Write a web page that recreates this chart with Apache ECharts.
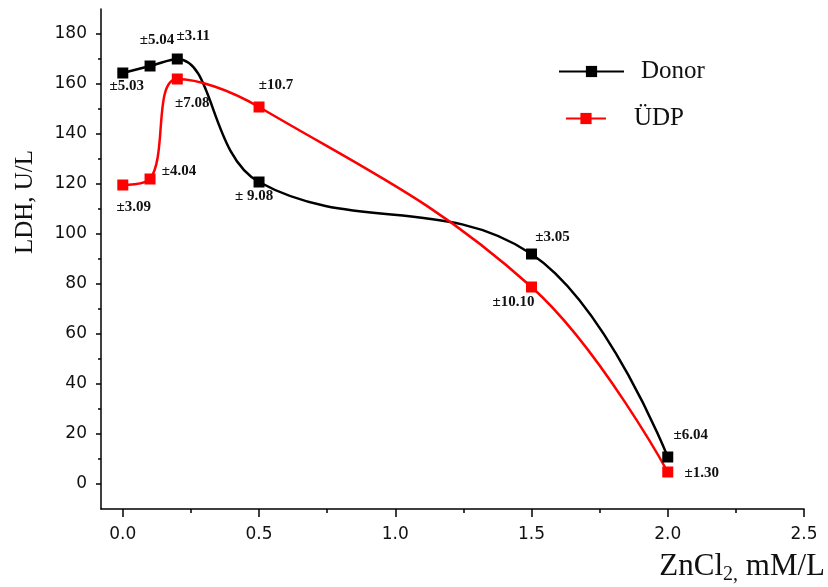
<!DOCTYPE html>
<html><head><meta charset="utf-8">
<script src="https://cdn.jsdelivr.net/npm/echarts@6/dist/echarts.min.js"></script>
<style>html,body{margin:0;padding:0;background:#fff}#c{width:828px;height:587px}</style>
</head><body><div id="c"></div>
<script>
// ---- data ----
const xValues = [0, 0.1, 0.2, 0.5, 1.5, 2.0];
const donorValues = [164.4, 167.2, 170, 120.8, 92, 10.8];
const udpValues = [119.6, 122, 162, 150.8, 78.8, 4.8];
const donorErrors = ['±5.03', '±5.04', '±3.11', '± 9.08', '±3.05', '±6.04'];
const udpErrors = ['±3.09', '±4.04', '±7.08', '±10.7', '±10.10', '±1.30'];
const seriesNames = ['Donor', 'ÜDP'];
const xTickValues = [0, 0.5, 1.0, 1.5, 2.0, 2.5];
const xMinorTickValues = [0.25, 0.75, 1.25, 1.75, 2.25];
const yTickValues = [0, 20, 40, 60, 80, 100, 120, 140, 160, 180];
const yMinorTickValues = [10, 30, 50, 70, 90, 110, 130, 150, 170];

// ---- layout (label offsets in px relative to markers) ----
const donorLabelOffsets = [[4, 13], [7, -26], [16, -23], [-5, 14], [21, -17], [23, -22]];
const udpLabelOffsets = [[11, 22], [29, -8], [15, 24], [17, -22], [-18, 15], [34, 1]];

const tickFont = { fontFamily: 'DejaVu Sans', fontSize: 17, color: '#111' };
const errLabel = { fontFamily: 'Liberation Serif', fontWeight: 'bold', fontSize: 15, color: '#111' };

function buildData(vals, errs, offs) {
  return xValues.map((x, i) => ({
    value: [x, vals[i]],
    label: { show: true, position: 'inside', offset: offs[i], formatter: errs[i], ...errLabel }
  }));
}

const chart = echarts.init(document.getElementById('c'), null, { renderer: 'canvas' });
chart.setOption({
  animation: false,
  backgroundColor: '#fff',
  grid: { left: 101, right: 24, top: 9, bottom: 78, containLabel: false },
  xAxis: [
    {
      type: 'value', min: -0.08, max: 2.5, position: 'bottom',
      axisLine: { show: true, onZero: false, lineStyle: { color: '#000', width: 1.5 } },
      axisTick: { show: true, length: 8, customValues: xTickValues, lineStyle: { color: '#000', width: 1.5 } },
      axisLabel: { show: true, margin: 17, customValues: xTickValues, formatter: v => v.toFixed(1), ...tickFont },
      splitLine: { show: false }
    },
    {
      type: 'value', min: -0.08, max: 2.5, position: 'bottom',
      axisLine: { show: false, onZero: false },
      axisTick: { show: true, length: 4, customValues: xMinorTickValues, lineStyle: { color: '#000', width: 1.5 } },
      axisLabel: { show: false },
      splitLine: { show: false }
    }
  ],
  yAxis: [
    {
      type: 'value', min: -10, max: 190, position: 'left',
      axisLine: { show: true, onZero: false, lineStyle: { color: '#000', width: 1.5 } },
      axisTick: { show: true, length: 5, customValues: yTickValues, lineStyle: { color: '#000', width: 1.5 } },
      axisLabel: { show: true, margin: 14, customValues: yTickValues, ...tickFont },
      splitLine: { show: false }
    },
    {
      type: 'value', min: -10, max: 190, position: 'left',
      axisLine: { show: false, onZero: false },
      axisTick: { show: true, length: 3, customValues: yMinorTickValues, lineStyle: { color: '#000', width: 1.5 } },
      axisLabel: { show: false },
      splitLine: { show: false }
    }
  ],
  legend: [
    {
      data: [seriesNames[0]], left: 558, top: 59, padding: 0,
      itemWidth: 65, itemHeight: 14,
      textStyle: { fontFamily: 'Liberation Serif', fontSize: 25, color: '#111', padding: [0, 0, 0, 12] }
    },
    {
      data: [seriesNames[1]], left: 565, top: 106, padding: 0,
      itemWidth: 40, itemHeight: 14,
      textStyle: { fontFamily: 'Liberation Serif', fontSize: 25, color: '#111', padding: [0, 0, 0, 23] }
    }
  ],
  series: [
    {
      name: seriesNames[0], type: 'line', smooth: 0.4,
      symbol: 'rect', symbolSize: 11,
      itemStyle: { color: '#000' },
      lineStyle: { color: '#000', width: 2.5 },
      data: buildData(donorValues, donorErrors, donorLabelOffsets)
    },
    {
      name: seriesNames[1], type: 'line', smooth: 0.4,
      symbol: 'rect', symbolSize: 11,
      itemStyle: { color: '#ff0000' },
      lineStyle: { color: '#ff0000', width: 2.5 },
      data: buildData(udpValues, udpErrors, udpLabelOffsets)
    }
  ],
  graphic: [
    {
      type: 'text', x: 25, y: 202, rotation: Math.PI / 2,
      style: { text: 'LDH, U/L', fontFamily: 'Liberation Serif', fontSize: 25, fill: '#111', align: 'center', verticalAlign: 'middle' }
    },
    {
      type: 'text', x: 825, y: 549,
      style: {
        text: '{a|ZnCl}{b|2,}{a| mM/L}', align: 'right', verticalAlign: 'top',
        rich: {
          a: { fontFamily: 'Liberation Serif', fontSize: 31, lineHeight: 36, fill: '#111', color: '#111' },
          b: { fontFamily: 'Liberation Serif', fontSize: 20, lineHeight: 20, verticalAlign: 'bottom', fill: '#111', color: '#111' }
        }
      }
    }
  ]
});
</script>
</body></html>
